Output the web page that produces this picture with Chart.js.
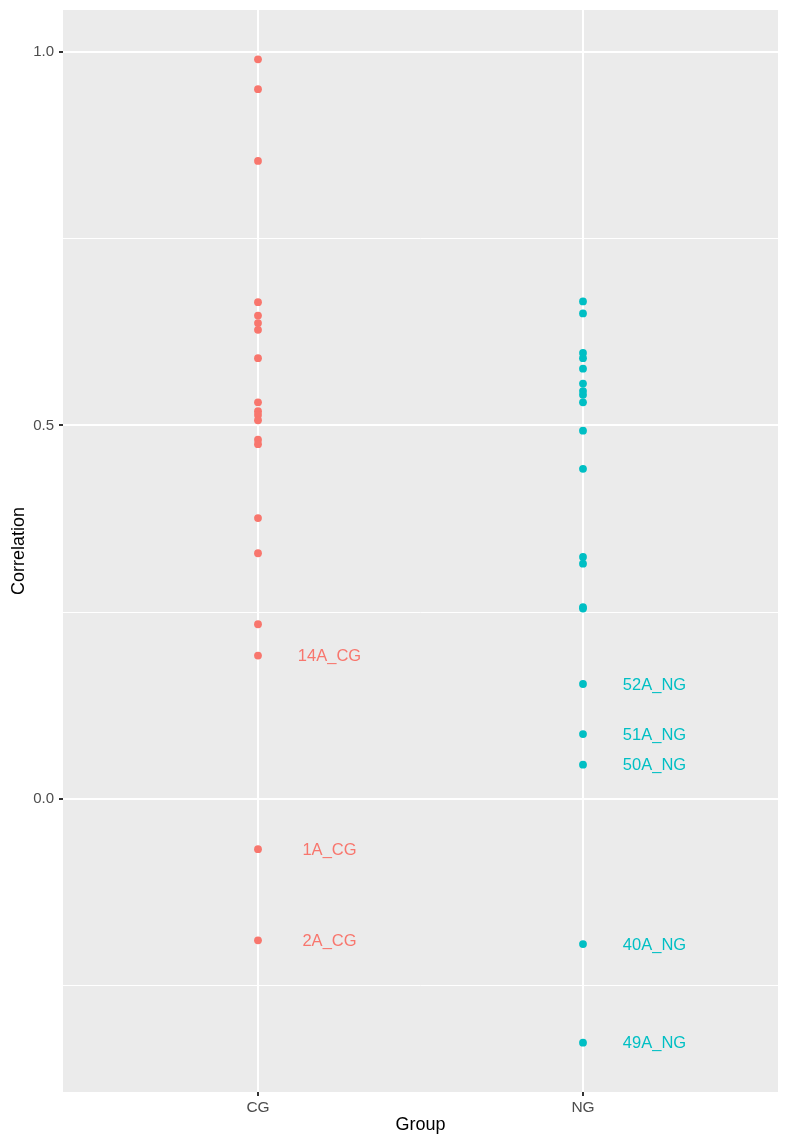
<!DOCTYPE html>
<html lang="en">
<head>
    <meta charset="UTF-8" />
    <title>Correlation by Group</title>
    <script src="https://cdn.jsdelivr.net/npm/chart.js"></script>
    <style>
        body { margin: 0; background: #ffffff; }
        canvas { display: block; }
    </style>
</head>
<body>
    <canvas id="corrChart" width="788" height="1142"></canvas>

    <script>
        // categories and values
        const groups = ['CG', 'NG'];
        const groupColors = ['#F8766D', '#00BFC4'];

        const cgValues = [0.990, 0.950, 0.854, 0.665, 0.647, 0.637, 0.628, 0.590, 0.531, 0.519,
                          0.514, 0.507, 0.481, 0.475, 0.376, 0.329, 0.234, 0.192, -0.067, -0.189];
        const cgNames  = ['', '', '', '', '', '', '', '', '', '',
                          '', '', '', '', '', '', '', '14A_CG', '1A_CG', '2A_CG'];

        const ngValues = [0.666, 0.650, 0.597, 0.590, 0.576, 0.556, 0.546, 0.541, 0.531, 0.493,
                          0.442, 0.324, 0.315, 0.257, 0.255, 0.154, 0.087, 0.046, -0.194, -0.326];
        const ngNames  = ['', '', '', '', '', '', '', '', '', '',
                          '', '', '', '', '', '52A_NG', '51A_NG', '50A_NG', '40A_NG', '49A_NG'];

        const yMajorTicks = [0, 0.5, 1.0];
        const yMinorTicks = [-0.25, 0.25, 0.75];
        const yTickLabels = ['0.0', '0.5', '1.0'];

        const toPoints = (vals, groupIdx) => vals.map(v => ({ x: groupIdx + 1, y: v }));

        const isMajor = v => yMajorTicks.some(t => Math.abs(t - v) < 1e-9);

        const fontFamily = '"Liberation Sans", Arial, sans-serif';

        // grey ggplot-style panel
        const panelBg = {
            id: 'panelBg',
            beforeDraw(chart) {
                const { ctx, chartArea: a } = chart;
                ctx.save();
                ctx.fillStyle = '#ffffff';
                ctx.fillRect(0, 0, chart.width, chart.height);
                ctx.fillStyle = '#EBEBEB';
                ctx.fillRect(a.left, a.top, a.right - a.left, a.bottom - a.top);
                ctx.restore();
            }
        };

        // text labels next to the outlying points
        const pointNames = {
            id: 'pointNames',
            afterDatasetsDraw(chart) {
                const { ctx, scales } = chart;
                ctx.save();
                ctx.font = '16.5px ' + fontFamily;
                ctx.textAlign = 'center';
                ctx.textBaseline = 'middle';
                chart.data.datasets.forEach(ds => {
                    ds.data.forEach((p, i) => {
                        const name = ds.names[i];
                        if (!name) return;
                        ctx.fillStyle = ds.backgroundColor;
                        ctx.fillText(name, scales.x.getPixelForValue(p.x + 0.22), scales.y.getPixelForValue(p.y) + 1);
                    });
                });
                ctx.restore();
            }
        };

        const ctx = document.getElementById('corrChart').getContext('2d');
        new Chart(ctx, {
            type: 'scatter',
            data: {
                datasets: [
                    { label: groups[0], data: toPoints(cgValues, 0), names: cgNames,
                      backgroundColor: groupColors[0], borderWidth: 0, pointRadius: 3.9 },
                    { label: groups[1], data: toPoints(ngValues, 1), names: ngNames,
                      backgroundColor: groupColors[1], borderWidth: 0, pointRadius: 3.9 }
                ]
            },
            options: {
                responsive: false,
                animation: false,
                layout: { padding: { top: 10, right: 10, left: 0, bottom: 0 } },
                plugins: {
                    legend: { display: false },
                    tooltip: { enabled: false }
                },
                scales: {
                    x: {
                        type: 'linear',
                        min: 0.4,
                        max: 2.6,
                        afterBuildTicks: scale => { scale.ticks = groups.map((g, i) => ({ value: i + 1 })); },
                        afterFit: scale => { scale.height = 50; },
                        ticks: {
                            callback: v => groups[v - 1],
                            color: '#4D4D4D',
                            font: { family: fontFamily, size: 15.5 },
                            padding: 2,
                            maxRotation: 0
                        },
                        grid: { color: '#ffffff', lineWidth: 2, tickLength: 4, tickColor: '#333333' },
                        border: { display: false },
                        title: {
                            display: true,
                            text: 'Group',
                            color: '#000000',
                            font: { family: fontFamily, size: 18 },
                            padding: { top: 1, bottom: 6 }
                        }
                    },
                    y: {
                        min: -0.392,
                        max: 1.056,
                        afterBuildTicks: scale => {
                            scale.ticks = yMinorTicks.concat(yMajorTicks).sort((a, b) => a - b).map(v => ({ value: v }));
                        },
                        afterFit: scale => {
                            scale.width = 63;
                            scale.paddingTop = 0;
                            scale.paddingBottom = 0;
                        },
                        ticks: {
                            callback: v => {
                                const i = yMajorTicks.findIndex(t => Math.abs(t - v) < 1e-9);
                                return i >= 0 ? yTickLabels[i] : '';
                            },
                            color: '#4D4D4D',
                            font: { family: fontFamily, size: 15 },
                            padding: 5
                        },
                        grid: {
                            color: '#ffffff',
                            lineWidth: c => isMajor(c.tick.value) ? 2 : 1,
                            tickLength: 4,
                            tickColor: c => isMajor(c.tick.value) ? '#333333' : 'rgba(0,0,0,0)'
                        },
                        border: { display: false },
                        title: {
                            display: true,
                            text: 'Correlation',
                            color: '#000000',
                            font: { family: fontFamily, size: 18 },
                            padding: { top: 8, bottom: 0 }
                        }
                    }
                }
            },
            plugins: [panelBg, pointNames]
        });
    </script>
</body>
</html>
